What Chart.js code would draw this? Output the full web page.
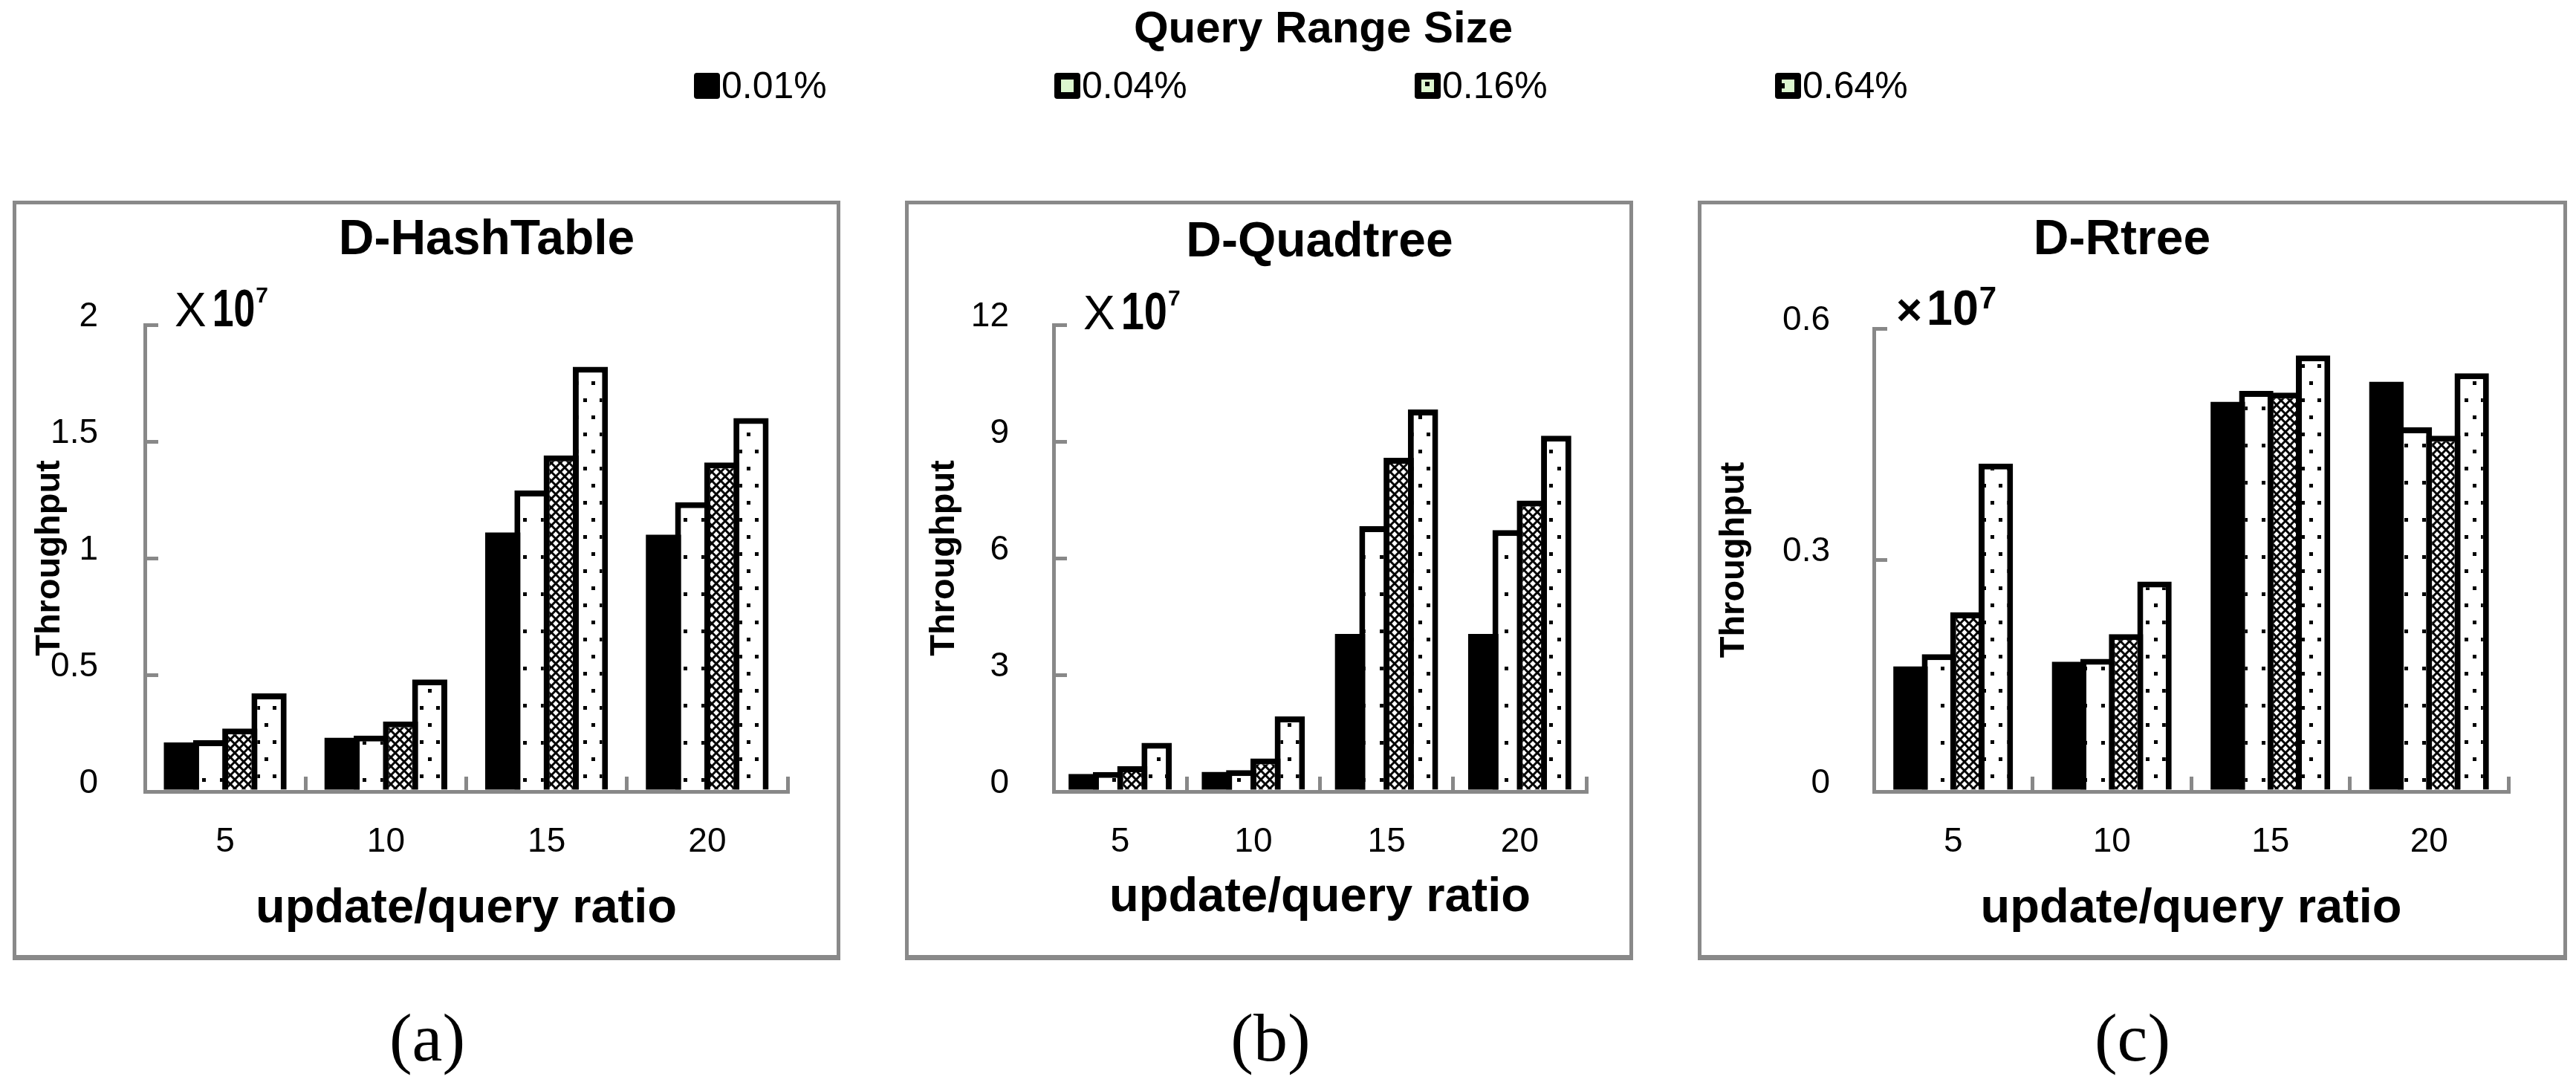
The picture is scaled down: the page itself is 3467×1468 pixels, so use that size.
<!DOCTYPE html>
<html>
<head>
<meta charset="utf-8">
<script src="https://cdn.jsdelivr.net/npm/chart.js@4.4.0/dist/chart.umd.min.js"></script>
<style>
  html, body { margin: 0; padding: 0; background: #fff; }
  body { position: relative; width: 3467px; height: 1468px; overflow: hidden;
         font-family: "Liberation Sans", Arial, sans-serif; color: #000; }
  .frame { position: absolute; box-sizing: border-box; border: 5px solid #898989; border-bottom-width: 7px; }
  .plot { position: absolute; }
  .legend-title { position: absolute; top: 7px; left: 1481px; width: 600px; text-align: center;
                  font-weight: bold; font-size: 60px; line-height: 60px; }
  .legend-item { position: absolute; top: 90px; font-size: 50px; line-height: 50px; white-space: nowrap; }
  .swatch { position: absolute; top: 8px; left: 0; width: 35px; height: 35px; background: #000; border-radius: 4px; }
  .swatch i { position: absolute; background: #dcf6cf; }
  .swatch b { position: absolute; background: #000; }
  .legend-item span { position: absolute; left: 37px; top: 0; }
  .letter { position: absolute; top: 1350px; width: 200px; text-align: center;
            font-family: "Liberation Serif", "Times New Roman", serif; font-size: 92px; line-height: 92px; }
</style>
</head>
<body>
<script>
const categories = ['5', '10', '15', '20'];
const seriesNames = ['0.01%', '0.04%', '0.16%', '0.64%'];

const hashTableValues = [
  [0.21, 0.23, 1.11, 1.10],
  [0.22, 0.24, 1.29, 1.24],
  [0.27, 0.30, 1.44, 1.41],
  [0.42, 0.48, 1.82, 1.60]
];
const quadtreeValues = [
  [0.45, 0.50, 4.05, 4.05],
  [0.50, 0.55, 6.82, 6.72],
  [0.65, 0.85, 8.58, 7.48],
  [1.25, 1.93, 9.82, 9.15]
];
const rtreeValues = [
  [0.162, 0.168, 0.505, 0.531],
  [0.178, 0.172, 0.519, 0.472],
  [0.232, 0.204, 0.517, 0.461],
  [0.425, 0.272, 0.565, 0.542]
];

const hashTableTicks = [0, 0.5, 1, 1.5, 2];
const quadtreeTicks = [0, 3, 6, 9, 12];
const rtreeTicks = [0, 0.3, 0.6];

const panelTitles = ['D-HashTable', 'D-Quadtree', 'D-Rtree'];
const panelLetters = ['(a)', '(b)', '(c)'];
const xTitle = 'update/query ratio';
const yTitle = 'Throughput';
const legendTitle = 'Query Range Size';
const multiplierSigns = ['X', 'X', '×'];
const exponent = '7';

const FONT = '"Liberation Sans", Arial, sans-serif';
Chart.defaults.font.family = FONT;
Chart.defaults.color = '#000';

const BORDER = 8;

// fills: solid, sparse dots, crosshatch, dense dots
function makePattern(kind) {
  const c = document.createElement('canvas');
  const g = c.getContext('2d');
  if (kind === 'sparse') {
    c.width = 24; c.height = 50;
    g.fillStyle = '#fff'; g.fillRect(0, 0, 24, 50);
    g.fillStyle = '#000'; g.fillRect(10, 22, 5, 5);
  } else if (kind === 'check') {
    c.width = 12; c.height = 12;
    g.fillStyle = '#fff'; g.fillRect(0, 0, 12, 12);
    g.strokeStyle = '#000'; g.lineWidth = 3;
    g.beginPath();
    g.moveTo(0, 0); g.lineTo(12, 12);
    g.moveTo(12, 0); g.lineTo(0, 12);
    g.stroke();
  } else {
    c.width = 22; c.height = 46;
    g.fillStyle = '#fff'; g.fillRect(0, 0, 22, 46);
    g.fillStyle = '#000';
    g.fillRect(4, 8, 5, 5);
    g.fillRect(15, 31, 5, 5);
  }
  return g.createPattern(c, 'repeat');
}
const fills = ['#000', makePattern('sparse'), makePattern('check'), makePattern('dense')];

// title and "x10^7" note drawn on the canvas
const panelText = {
  id: 'panelText',
  afterDraw(chart, args, o) {
    const { ctx, chartArea } = chart;
    ctx.save();
    ctx.fillStyle = '#000';
    ctx.textBaseline = 'alphabetic';
    ctx.textAlign = 'center';
    ctx.font = 'bold 66px ' + FONT;
    ctx.fillText(o.title, o.titleX, o.titleY);

    ctx.textAlign = 'left';
    let x = chartArea.left + o.multDx;
    const y = chartArea.top + o.multDy;
    ctx.font = o.signFont + ' ' + FONT;
    ctx.fillText(o.sign, x, y);
    x += ctx.measureText(o.sign).width + o.signGap;
    ctx.font = 'bold ' + o.tenSize + 'px ' + FONT;
    const tenW = ctx.measureText('10').width * o.tenScale;
    ctx.save();
    ctx.translate(x, y);
    ctx.scale(o.tenScale, 1);
    ctx.fillText('10', 0, 0);
    ctx.restore();
    x += tenW + 1;
    ctx.font = 'bold ' + o.expSize + 'px ' + FONT;
    ctx.fillText(exponent, x, y - o.expRaise);
    ctx.restore();
  }
};

const panels = [
  { values: hashTableValues, ticks: hashTableTicks, frame: [17, 270, 1114, 1022],
    yWidth: 173, padRight: 66, padTop: 162, yTitlePad: 17, yLabelPad: 81, xTitlePad: 25,
    catPct: 0.727, barPct: 1.204, titleX: 633, titleY: 67,
    multDx: 40, multDy: 2, signFont: '64px', signGap: 8, tenSize: 70, tenScale: 0.74,
    expSize: 30, expRaise: 32 },
  { values: quadtreeValues, ticks: quadtreeTicks, frame: [1218, 270, 980, 1022],
    yWidth: 195, padRight: 58, padTop: 162, yTitlePad: 20, yLabelPad: 78, xTitlePad: 40,
    catPct: 0.73, barPct: 1.245, titleX: 553, titleY: 70,
    multDx: 40, multDy: 6, signFont: '64px', signGap: 8, tenSize: 70, tenScale: 0.8,
    expSize: 30, expRaise: 32 },
  { values: rtreeValues, ticks: rtreeTicks, frame: [2285, 270, 1170, 1022],
    yWidth: 232, padRight: 74, padTop: 167, yTitlePad: 16, yLabelPad: 77, xTitlePad: 25,
    catPct: 0.717, barPct: 1.209, titleX: 566, titleY: 67,
    multDx: 30, multDy: -5, signFont: 'bold 60px', signGap: 6, tenSize: 66, tenScale: 0.95,
    expSize: 42, expRaise: 22 }
];

const letterCenters = [575, 1710, 2870];

// legend across the top
const lt = document.createElement('div');
lt.className = 'legend-title';
lt.textContent = legendTitle;
document.body.appendChild(lt);

const swatchInner = [
  '',
  '<i style="left:9px;top:9px;width:17px;height:17px"></i>',
  '<i style="left:9px;top:9px;width:17px;height:17px"></i><b style="left:14px;top:12px;width:6px;height:6px"></b>',
  '<i style="left:9px;top:9px;width:17px;height:17px"></i><b style="left:9px;top:14px;width:4px;height:7px"></b>'
];
seriesNames.forEach((name, i) => {
  const item = document.createElement('div');
  item.className = 'legend-item';
  item.style.left = (934 + i * 485) + 'px';
  item.innerHTML = '<div class="swatch">' + swatchInner[i] + '</div><span></span>';
  item.querySelector('span').textContent = name;
  document.body.appendChild(item);
});

panels.forEach((p, idx) => {
  const [fx, fy, fw, fh] = p.frame;
  const frame = document.createElement('div');
  frame.className = 'frame';
  Object.assign(frame.style, { left: fx + 'px', top: fy + 'px', width: fw + 'px', height: fh + 'px' });
  document.body.appendChild(frame);

  const box = document.createElement('div');
  box.className = 'plot';
  const iw = fw - 10, ih = fh - 12;
  Object.assign(box.style, { left: (fx + 5) + 'px', top: (fy + 5) + 'px', width: iw + 'px', height: ih + 'px' });
  const canvas = document.createElement('canvas');
  box.appendChild(canvas);
  document.body.appendChild(box);

  const letter = document.createElement('div');
  letter.className = 'letter';
  letter.style.left = (letterCenters[idx] - 100) + 'px';
  letter.textContent = panelLetters[idx];
  document.body.appendChild(letter);

  const tickVals = p.ticks;
  new Chart(canvas, {
    type: 'bar',
    data: {
      labels: categories,
      datasets: p.values.map((vals, i) => ({
        label: seriesNames[i],
        data: vals,
        backgroundColor: fills[i],
        borderColor: '#000',
        borderWidth: i === 0 ? 0 : BORDER,
        categoryPercentage: p.catPct,
        barPercentage: p.barPct
      }))
    },
    options: {
      responsive: true,
      maintainAspectRatio: false,
      animation: false,
      devicePixelRatio: 1,
      layout: { padding: { left: 0, right: p.padRight, top: p.padTop, bottom: 0 } },
      plugins: {
        legend: { display: false },
        tooltip: { enabled: false },
        panelText: {
          title: panelTitles[idx], titleX: p.titleX, titleY: p.titleY,
          sign: multiplierSigns[idx], signFont: p.signFont, signGap: p.signGap,
          tenSize: p.tenSize, tenScale: p.tenScale,
          multDx: p.multDx, multDy: p.multDy, expSize: p.expSize, expRaise: p.expRaise
        }
      },
      scales: {
        x: {
          z: 1,
          afterFit: s => { s.height = 220; },
          grid: { display: true, drawOnChartArea: false, drawTicks: true, tickLength: -20,
                  offset: true, color: '#888', lineWidth: 5 },
          border: { display: true, color: '#888', width: 5 },
          ticks: { font: { size: 46 }, padding: 61, color: '#000' },
          title: { display: true, text: xTitle, font: { size: 65, weight: 'bold' },
                   padding: { top: 0, bottom: p.xTitlePad - 2 }, color: '#000' }
        },
        y: {
          min: tickVals[0],
          max: tickVals[tickVals.length - 1],
          afterFit: s => { s.width = p.yWidth; },
          afterBuildTicks: s => { s.ticks = tickVals.map(v => ({ value: v })); },
          grid: { display: true, drawOnChartArea: false, drawTicks: true, tickLength: -18,
                  color: '#888', lineWidth: 5 },
          border: { display: true, color: '#888', width: 5 },
          ticks: { font: { size: 46 }, padding: p.yLabelPad, labelOffset: -11, color: '#000',
                   callback: v => String(v) },
          title: { display: true, text: yTitle, font: { size: 47, weight: 'bold' },
                   padding: { top: p.yTitlePad, bottom: 0 }, color: '#000' }
        }
      }
    },
    plugins: [panelText]
  });
});
</script>
</body>
</html>
